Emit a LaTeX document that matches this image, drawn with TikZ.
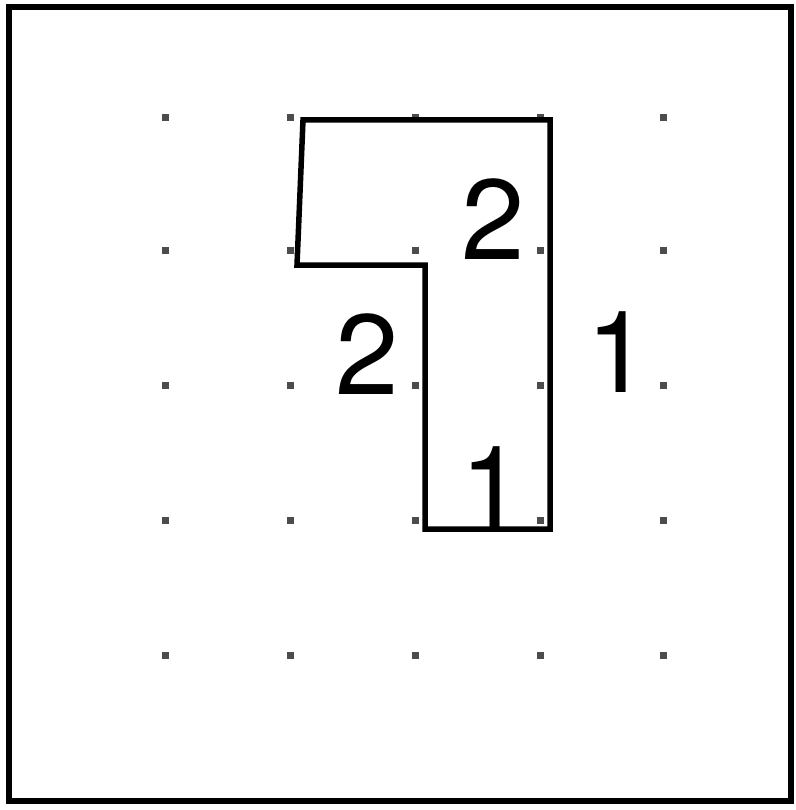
\documentclass[tikz,border=0pt]{standalone}
\usepackage{fontspec}
\setmainfont{TeX Gyre Heros}
\begin{document}
\begin{tikzpicture}[x=1pt,y=-1pt,
  gdot/.style={fill=black!70,inner sep=0pt,minimum size=7pt,shape=rectangle},
  digit/.style={anchor=base,inner sep=0pt,font=\fontsize{114}{114}\selectfont},
  outline/.style={line width=5.5pt,line join=miter}]
\useasboundingbox (0,0) rectangle (795,810);
\draw[line width=6.5pt] (9,7) rectangle (791,801);
% grid dots
\foreach \i/\x in {1/165,2/290,3/415,4/540,5/663}{
  \foreach \j/\y in {1/118,2/250,3/385,4/520,5/655}{
    \node[gdot] (d\i\j) at (\x,\y) {};
  }
}
% polygon
\coordinate (p1) at (303,120);
\coordinate (p2) at (550,120);
\coordinate (p3) at (550,529);
\coordinate (p4) at (425,529);
\coordinate (p5) at (425,265);
\coordinate (p6) at (297,265);
\draw[outline] (p1) -- (p2) -- (p3) -- (p4) -- (p5) -- (p6) -- cycle;
% labels
\node[digit] (l1) at (493,259) {2};
\node[digit] (l2) at (367,394) {2};
\node[digit] (l3) at (618,392) {1};
\node[digit] (l4) at (492,527) {1};
\end{tikzpicture}
\end{document}
